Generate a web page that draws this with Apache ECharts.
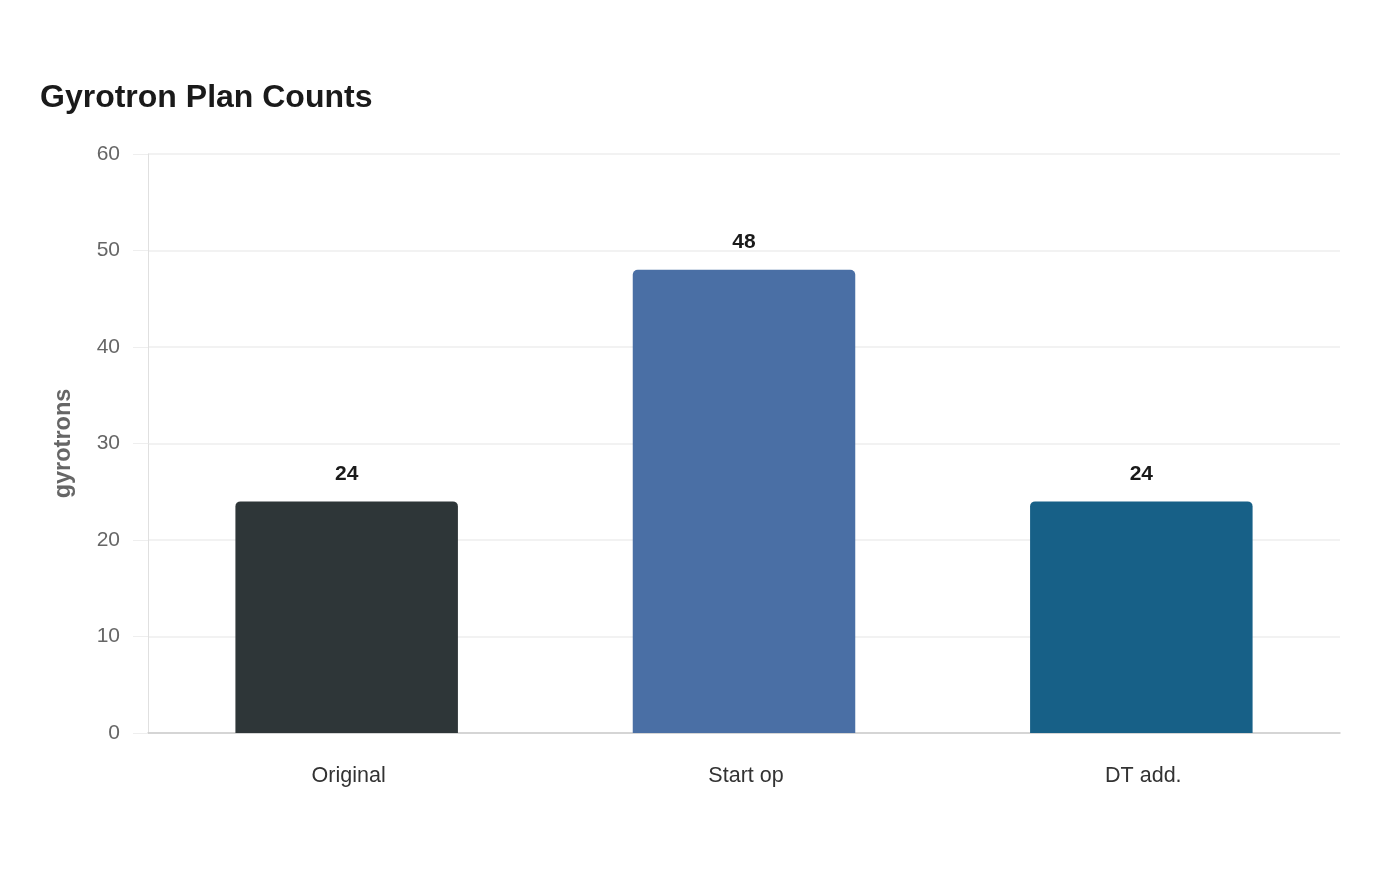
<!DOCTYPE html>
<html>
<head>
<meta charset="utf-8">
<script src="https://cdn.jsdelivr.net/npm/echarts@6/dist/echarts.min.js"></script>
<style>
  html, body { margin: 0; padding: 0; background: #fff; }
  #chart { width: 1400px; height: 880px; }
</style>
</head>
<body>
<div id="chart"></div>
<script>
// 数据
const categories = ['Original', 'Start op', 'DT add.'];
const counts = [24, 48, 24];
const barColors = ['#2e3638', '#4a6fa5', '#176087'];
const yTicks = [0, 10, 20, 30, 40, 50, 60];

// 字体
const FONT = '"Liberation Sans", Arial, sans-serif';

const myChart = echarts.init(document.getElementById('chart'));

const option = {
  backgroundColor: '#ffffff',
  textStyle: { fontFamily: FONT },
  title: {
    text: 'Gyrotron Plan Counts',
    left: 35,
    top: 77,
    textStyle: { fontSize: 32, fontWeight: 'bold', color: '#1a1a1a', fontFamily: FONT }
  },
  grid: { left: 148, right: 60, top: 154, bottom: 147 },
  xAxis: {
    type: 'category',
    data: categories,
    axisLine: { show: true, lineStyle: { color: '#cccccc', width: 1.5 } },
    axisTick: { show: false },
    axisLabel: { color: '#333333', fontSize: 21.5, margin: 32, padding: [0, 0, 0, 4], fontFamily: FONT }
  },
  yAxis: {
    type: 'value',
    min: yTicks[0],
    max: yTicks[yTicks.length - 1],
    interval: 10,
    name: 'gyrotrons',
    nameLocation: 'middle',
    nameGap: 72,
    nameTextStyle: { color: '#666666', fontSize: 23.5, fontWeight: 'bold', fontFamily: FONT },
    axisLine: { show: true, lineStyle: { color: '#e0e0e0' } },
    axisTick: { show: true, length: 15, lineStyle: { color: '#eeeeee' } },
    axisLabel: { color: '#666666', fontSize: 21, margin: 28, padding: [5, 0, 0, 0], fontFamily: FONT },
    splitLine: { lineStyle: { color: '#eeeeee', width: 1.5 } }
  },
  series: [
    {
      type: 'bar',
      barWidth: '56%',
      data: counts.map((v, i) => ({
        value: v,
        itemStyle: { color: barColors[i], borderRadius: [5, 5, 0, 0] }
      })),
      label: {
        show: true,
        position: 'top',
        distance: 17,
        color: '#1a1a1a',
        fontSize: 21,
        fontWeight: 'bold',
        fontFamily: FONT
      }
    }
  ]
};

myChart.setOption(option);
</script>
</body>
</html>
